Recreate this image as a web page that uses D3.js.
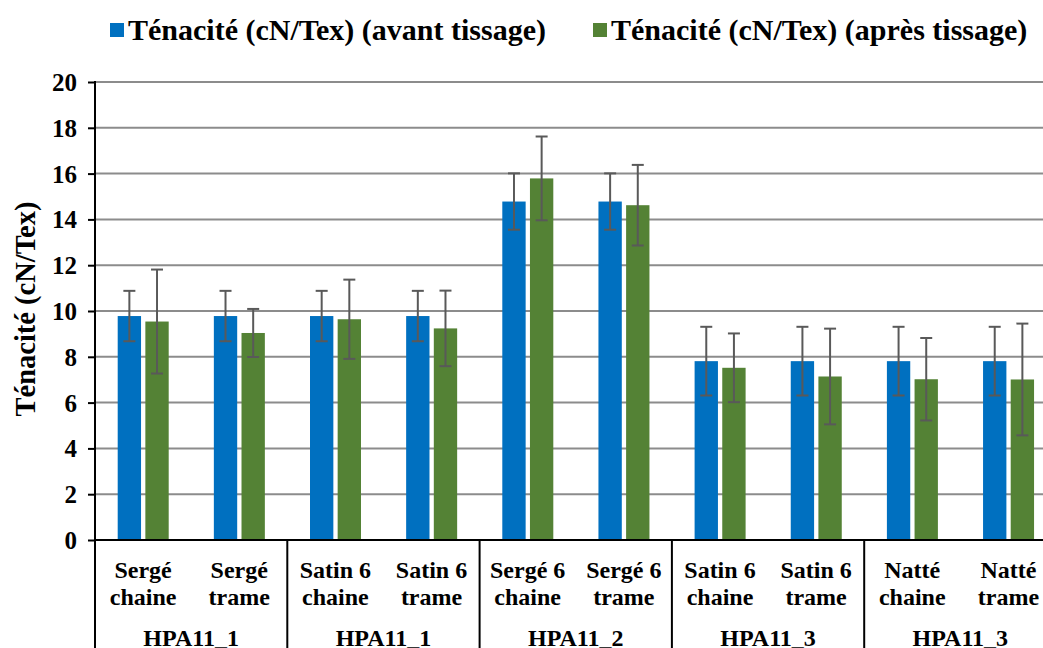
<!DOCTYPE html>
<html><head><meta charset="utf-8">
<script src="https://cdn.jsdelivr.net/npm/d3@7"></script>
<style>
body{margin:0;background:#fff;}
svg{display:block;}
</style></head>
<body>
<svg id="chart" width="1043" height="648"></svg>
<script>
const categories = ["Sergé chaine","Sergé trame","Satin 6 chaine","Satin 6 trame","Sergé 6 chaine","Sergé 6 trame","Satin 6 chaine","Satin 6 trame","Natté chaine","Natté trame"];
const catLine1 = ["Sergé","Sergé","Satin 6","Satin 6","Sergé 6","Sergé 6","Satin 6","Satin 6","Natté","Natté"];
const catLine2 = ["chaine","trame","chaine","trame","chaine","trame","chaine","trame","chaine","trame"];
const groups = ["HPA11_1","HPA11_1","HPA11_2","HPA11_3","HPA11_3"];
const seriesNames = ["Ténacité (cN/Tex) (avant tissage)","Ténacité (cN/Tex) (après tissage)"];
const avant = [9.78,9.78,9.78,9.78,14.78,14.78,7.81,7.81,7.81,7.81];
const avantErr = [1.1,1.1,1.1,1.1,1.23,1.23,1.5,1.5,1.5,1.5];
const apres = [9.54,9.04,9.64,9.24,15.79,14.62,7.52,7.14,7.02,7.01];
const apresErr = [2.27,1.05,1.73,1.65,1.83,1.76,1.5,2.09,1.8,2.44];
const yTicks = [0,2,4,6,8,10,12,14,16,18,20];
const colors = ["#0070C0","#548235"];
const FONT = "Liberation Serif";

const svg = d3.select("#chart");
const pLeft = 95, pRight = 1056.5, pTop = 82, pBottom = 540;
const x = d3.scaleBand().domain(categories.map((c,i)=>i)).range([pLeft,pRight]).paddingInner(0).paddingOuter(0);
const xs = d3.scaleBand().domain([0,1]).range([22.7,73.7]).paddingInner(0.156).paddingOuter(0);
const y = d3.scaleLinear().domain([0,20]).range([pBottom,pTop]);

function txt(sel){ return sel.attr("font-family",FONT).attr("font-weight","bold").attr("fill","#000"); }

// gridlines
svg.append("g").selectAll("line").data(yTicks.filter(t=>t>0)).join("line")
  .attr("x1",pLeft).attr("x2",1043).attr("y1",d=>y(d)).attr("y2",d=>y(d))
  .attr("stroke","#8c8c8c").attr("stroke-width",2);

// y axis
const yAxis = d3.axisLeft(y).tickValues(yTicks).tickSize(7).tickPadding(11).tickFormat(d3.format("d"));
const ga = svg.append("g").attr("transform",`translate(${pLeft},0)`).call(yAxis);
ga.select(".domain").remove();
ga.selectAll(".tick line").attr("stroke","#000").attr("stroke-width",2);
txt(ga.selectAll(".tick text")).attr("font-size",25).attr("dy","0.34em");
svg.append("line").attr("x1",pLeft).attr("x2",pLeft).attr("y1",pTop-1).attr("y2",648).attr("stroke","#000").attr("stroke-width",2);

// bars
const series = [{v:avant,e:avantErr},{v:apres,e:apresErr}];
series.forEach((s,si)=>{
  const g = svg.append("g");
  g.selectAll("rect").data(s.v).join("rect")
    .attr("x",(d,i)=>x(i)+xs(si)).attr("width",xs.bandwidth())
    .attr("y",d=>y(d)).attr("height",d=>y(0)-y(d)).attr("fill",colors[si]);
});
// error bars
series.forEach((s,si)=>{
  const g = svg.append("g").attr("stroke","#595959").attr("stroke-width",2);
  s.v.forEach((d,i)=>{
    const cx = x(i)+xs(si)+xs.bandwidth()/2;
    g.append("line").attr("x1",cx).attr("x2",cx).attr("y1",y(d+s.e[i])).attr("y2",y(d-s.e[i]));
    g.append("line").attr("x1",cx-6).attr("x2",cx+6).attr("y1",y(d+s.e[i])).attr("y2",y(d+s.e[i]));
    g.append("line").attr("x1",cx-6).attr("x2",cx+6).attr("y1",y(d-s.e[i])).attr("y2",y(d-s.e[i]));
  });
});

// x axis line
svg.append("line").attr("x1",pLeft).attr("x2",1043).attr("y1",pBottom).attr("y2",pBottom).attr("stroke","#000").attr("stroke-width",2);
// group separators + group labels
groups.forEach((gname,gi)=>{
  const xe = x(gi*2+1)+x.bandwidth();
  svg.append("line").attr("x1",xe).attr("x2",xe).attr("y1",pBottom).attr("y2",648).attr("stroke","#000").attr("stroke-width",2);
  txt(svg.append("text")).attr("x",(x(gi*2)+xe)/2).attr("y",646).attr("text-anchor","middle").attr("font-size",24).text(gname);
});
// category labels
categories.forEach((c,i)=>{
  const cx = x(i)+x.bandwidth()/2;
  txt(svg.append("text")).attr("x",cx).attr("y",578).attr("text-anchor","middle").attr("font-size",24).text(catLine1[i]);
  txt(svg.append("text")).attr("x",cx).attr("y",605).attr("text-anchor","middle").attr("font-size",24).text(catLine2[i]);
});

// y title
txt(svg.append("text")).attr("transform","translate(35,309) rotate(-90)").attr("text-anchor","middle").attr("font-size",28.5).text("Ténacité (cN/Tex)");

// legend
const legX = [110,593];
seriesNames.forEach((n,i)=>{
  svg.append("rect").attr("x",legX[i]).attr("y",23).attr("width",14).attr("height",14).attr("fill",colors[i]);
  txt(svg.append("text")).attr("x",legX[i]+18).attr("y",40).attr("font-size",30).text(n);
});
</script>
</body></html>
